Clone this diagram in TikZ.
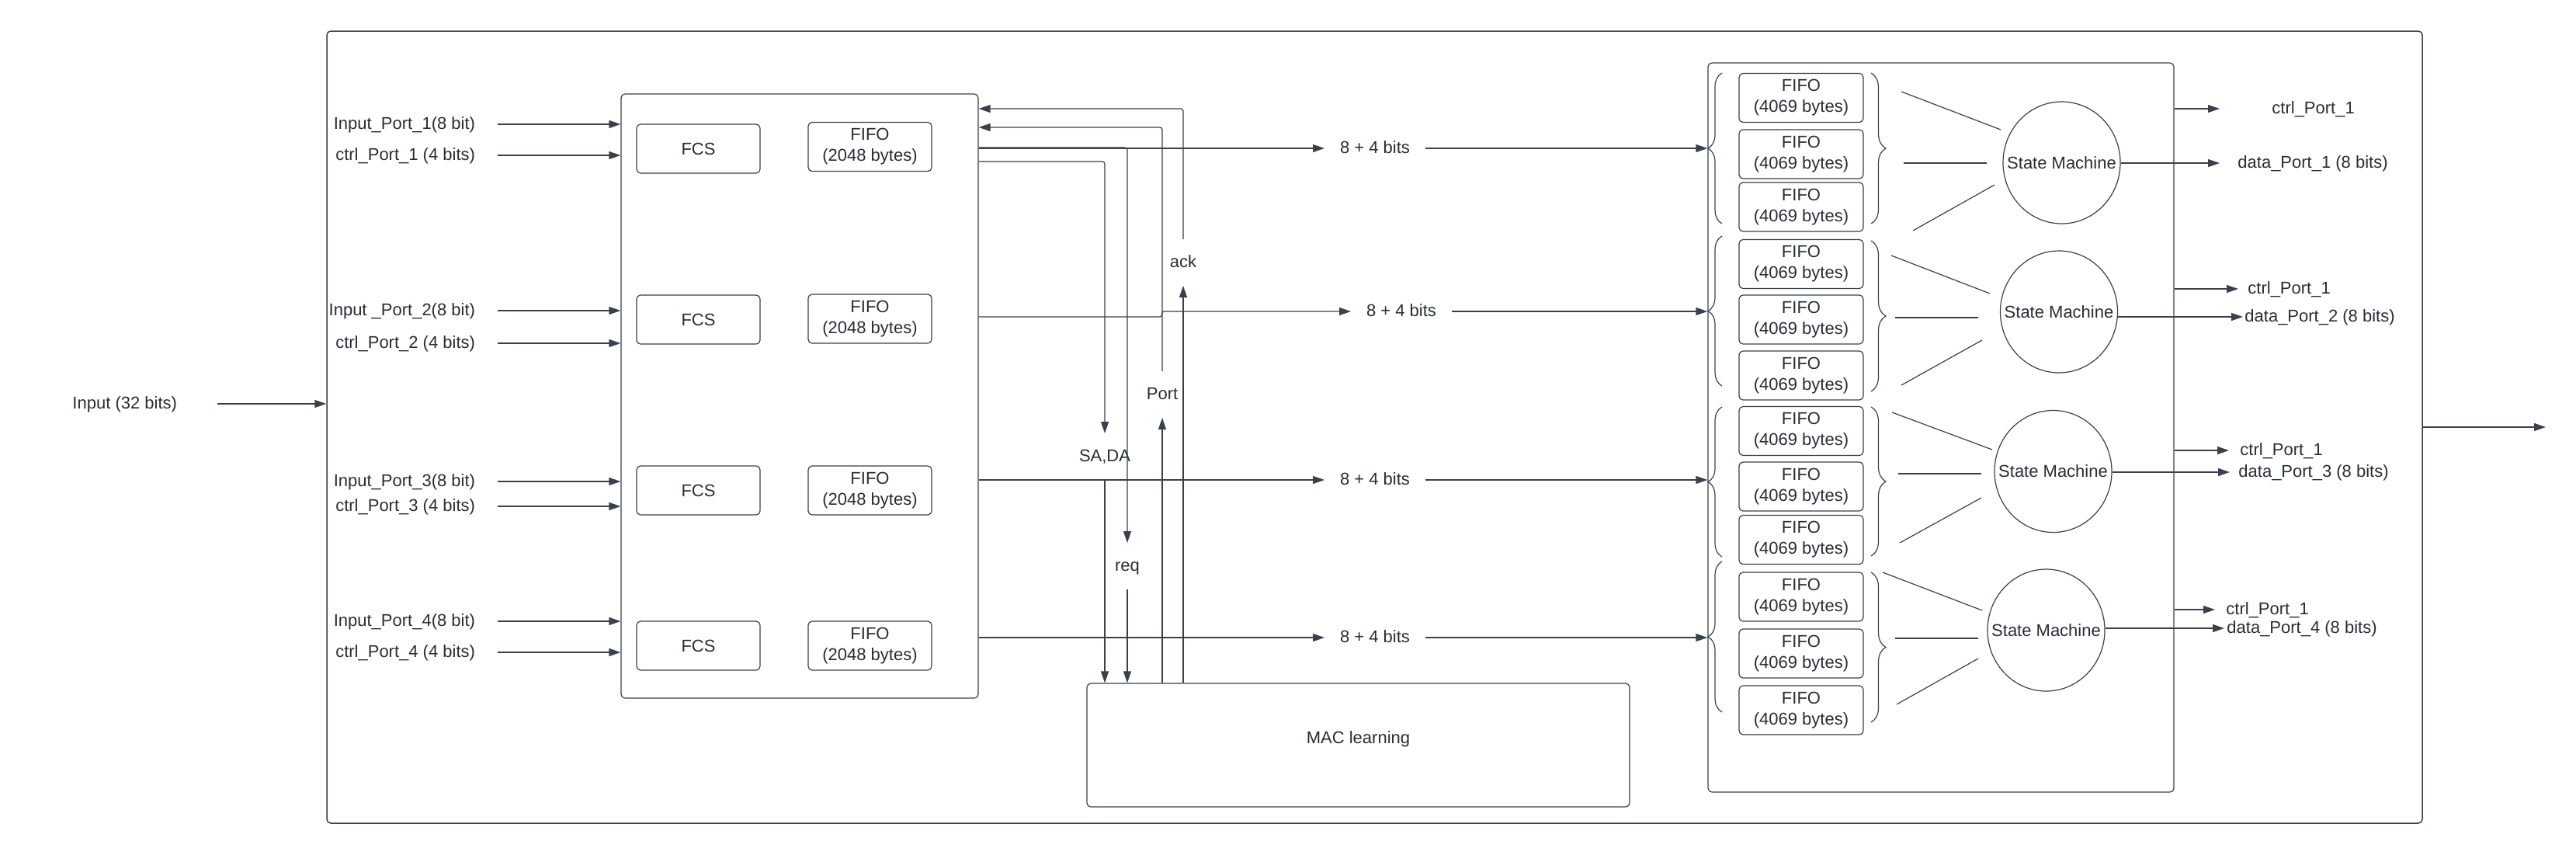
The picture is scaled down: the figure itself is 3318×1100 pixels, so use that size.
\documentclass[tikz,border=0pt]{standalone}
\usepackage{fontspec}
\setmainfont{Liberation Sans}
\usetikzlibrary{arrows.meta,shapes.geometric,fit,decorations.pathreplacing}

\definecolor{ink}{RGB}{58,65,74}
\definecolor{txt}{RGB}{40,45,52}

\tikzset{
  lbl/.style={inner sep=0pt, text height=8pt, text depth=2pt},
  midlbl/.style={lbl, outer sep=10pt},
  inlbl/.style={lbl, outer sep=14.5pt, anchor=east},
  outlbl/.style={lbl, anchor=west},
  blk/.style={draw=ink, line width=0.6pt, rounded corners=2.5pt, inner sep=0pt},
  smallblk/.style={blk, minimum width=79.5pt, minimum height=31.5pt, align=center},
  fsm/.style={draw=ink, line width=0.6pt, ellipse, inner sep=0pt, minimum width=75.5pt, minimum height=78.5pt,
    label={center:State Machine}},
  arr/.style={draw=ink, line width=0.6pt, rounded corners=1.5pt, -{Triangle[length=7.5pt,width=5pt]}},
  ln/.style={draw=ink, line width=0.6pt},
  lbrc/.style={ln, decorate, decoration={brace, amplitude=9pt}},
  rbrc/.style={ln, decorate, decoration={brace, amplitude=9.5pt}},
}

\begin{document}
\begin{tikzpicture}[x=0.5pt,y=0.5pt,yscale=-1,xscale=1,
  every node/.style={font=\fontsize{11pt}{13.5pt}\selectfont, text=txt}]
\useasboundingbox (0,0) rectangle (3318,1100);

%Shape: Rectangle (switch)
\node[blk, line width=0.75pt, fit={(421,40) (3120,1060)}] (sw) {};
%Shape: Rectangle (input side)
\node[blk, fit={(800,121) (1260,899)}] (ingress) {};
%Shape: Rectangle (output side)
\node[blk, fit={(2200,81) (2800,1020)}] (egress) {};
%Shape: Rectangle (MAC learning)
\node[blk, fit={(1400,880) (2099,1039)}] (mac) {MAC learning};

%Shape: FCS and FIFO blocks
\node[smallblk] (fcs1) at (899.5,191.5) {FCS};
\node[smallblk] (fcs2) at (899.5,411.5) {FCS};
\node[smallblk] (fcs3) at (899.5,631.5) {FCS};
\node[smallblk] (fcs4) at (899.5,831.5) {FCS};
\node[smallblk] (fifo1) at (1120.5,189) {FIFO\\(2048 bytes)};
\node[smallblk] (fifo2) at (1120.5,410.5) {FIFO\\(2048 bytes)};
\node[smallblk] (fifo3) at (1120.5,631.5) {FIFO\\(2048 bytes)};
\node[smallblk] (fifo4) at (1120.5,831.5) {FIFO\\(2048 bytes)};

% Text Node
\node[lbl, outer sep=26pt, anchor=east] (inp) at (280,520) {Input (32 bits)};
\node[inlbl] (ip1) at (641,160) {Input\_Port\_1(8 bit)};
\node[inlbl] (ic1) at (641,200) {ctrl\_Port\_1 (4 bits)};
\node[inlbl] (ip2) at (641,400) {Input \_Port\_2(8 bit)};
\node[inlbl] (ic2) at (641,442) {ctrl\_Port\_2 (4 bits)};
\node[inlbl] (ip3) at (641,620) {Input\_Port\_3(8 bit)};
\node[inlbl] (ic3) at (641,652) {ctrl\_Port\_3 (4 bits)};
\node[inlbl] (ip4) at (641,800) {Input\_Port\_4(8 bit)};
\node[inlbl] (ic4) at (641,840) {ctrl\_Port\_4 (4 bits)};

%Straight Lines (inputs)
\draw[arr] (inp.east) -- (inp.east -| sw.west);
\draw[arr] (ip1.east) -- (ip1.east -| ingress.west);
\draw[arr] (ic1.east) -- (ic1.east -| ingress.west);
\draw[arr] (ip2.east) -- (ip2.east -| ingress.west);
\draw[arr] (ic2.east) -- (ic2.east -| ingress.west);
\draw[arr] (ip3.east) -- (ip3.east -| ingress.west);
\draw[arr] (ic3.east) -- (ic3.east -| ingress.west);
\draw[arr] (ip4.east) -- (ip4.east -| ingress.west);
\draw[arr] (ic4.east) -- (ic4.east -| ingress.west);

% Text Node
\node[midlbl] (ack) at (1524,338) {ack};
\node[midlbl] (port) at (1497,508) {Port};
\node[midlbl] (sada) at (1423,588) {SA,DA};
\node[midlbl] (req) at (1452,729) {req};
\node[midlbl] (bits1) at (1771,191) {8 + 4 bits};
\node[midlbl] (bits2) at (1805,401) {8 + 4 bits};
\node[midlbl] (bits3) at (1771,618) {8 + 4 bits};
\node[midlbl] (bits4) at (1771,821) {8 + 4 bits};

%Straight Lines (to MAC learning and back)
\draw[arr] (ingress.east |- 0,190) -| (req.north);
\draw[arr] (req.south) -- (req.south |- mac.north);
\draw[arr] (ingress.east |- 0,208) -| (sada.north);
\draw[arr] (sada.south) -- (sada.south |- mac.north);
\draw[arr] (port.south |- mac.north) -- (port.south);
\draw[arr] (port.north) |- (ingress.east |- 0,164);
\draw[arr] (ack.south |- mac.north) -- (ack.south);
\draw[arr] (ack.north) |- (ingress.east |- 0,140);

%Straight Lines (8 + 4 bits)
\draw[arr] (ingress.east |- bits1) -- (bits1.west);
\draw[arr] (bits1.east) -- (bits1.east -| egress.west);
\draw[arr] (ingress.east |- 0,408) -- ++(236,0) |- (bits2.west);
\draw[arr] (bits2.east) -- (bits2.east -| egress.west);
\draw[arr] (ingress.east |- bits3) -- (bits3.west);
\draw[arr] (bits3.east) -- (bits3.east -| egress.west);
\draw[arr] (ingress.east |- bits4) -- (bits4.west);
\draw[arr] (bits4.east) -- (bits4.east -| egress.west);

%Shape: output FIFOs
\node[smallblk, minimum width=80pt] (q11) at (2320,126) {FIFO\\(4069 bytes)};
\node[smallblk, minimum width=80pt] (q12) at (2320,198.5) {FIFO\\(4069 bytes)};
\node[smallblk, minimum width=80pt] (q13) at (2320,266.5) {FIFO\\(4069 bytes)};
\node[smallblk, minimum width=80pt] (q21) at (2320,340) {FIFO\\(4069 bytes)};
\node[smallblk, minimum width=80pt] (q22) at (2320,411.5) {FIFO\\(4069 bytes)};
\node[smallblk, minimum width=80pt] (q23) at (2320,483.5) {FIFO\\(4069 bytes)};
\node[smallblk, minimum width=80pt] (q31) at (2320,555) {FIFO\\(4069 bytes)};
\node[smallblk, minimum width=80pt] (q32) at (2320,626.5) {FIFO\\(4069 bytes)};
\node[smallblk, minimum width=80pt] (q33) at (2320,695) {FIFO\\(4069 bytes)};
\node[smallblk, minimum width=80pt] (q41) at (2320,768.5) {FIFO\\(4069 bytes)};
\node[smallblk, minimum width=80pt] (q42) at (2320,841.5) {FIFO\\(4069 bytes)};
\node[smallblk, minimum width=80pt] (q43) at (2320,914.5) {FIFO\\(4069 bytes)};

%Shape: Braces
\draw[lbrc] (2218,288) -- (2218,94);
\draw[lbrc] (2218,497) -- (2218,304);
\draw[lbrc] (2218,717) -- (2218,524);
\draw[lbrc] (2218,917) -- (2218,723);
\draw[rbrc] (2410,94) -- (2410,288);
\draw[rbrc] (2410,310) -- (2410,504);
\draw[rbrc] (2410,524) -- (2410,716);
\draw[rbrc] (2410,737) -- (2410,930);

%Shape: State machines
\node[fsm] (sm1) at (2655.5,209.5) {};
\node[fsm] (sm2) at (2652,401.5) {};
\node[fsm] (sm3) at (2644.5,607) {};
\node[fsm] (sm4) at (2635.5,811.5) {};

%Straight Lines (fan in)
\draw[ln] (2449,118) -- (2577,167);
\draw[ln] (2452,210) -- (2559,210);
\draw[ln] (2464,297) -- (2569,238);
\draw[ln] (2436,329) -- (2563,378);
\draw[ln] (2441,409) -- (2548,409);
\draw[ln] (2449,496) -- (2553,438);
\draw[ln] (2437,531) -- (2566,579);
\draw[ln] (2445,610) -- (2552,610);
\draw[ln] (2447,699) -- (2552,641);
\draw[ln] (2425,737) -- (2553,786);
\draw[ln] (2441,822) -- (2548,822);
\draw[ln] (2443,907) -- (2548,848);

% Text Node
\node[outlbl] (oc1) at (2926,140) {ctrl\_Port\_1};
\node[outlbl] (od1) at (2882,210) {data\_Port\_1 (8 bits)};
\node[outlbl] (oc2) at (2895,372) {ctrl\_Port\_1};
\node[outlbl] (od2) at (2891,408) {data\_Port\_2 (8 bits)};
\node[outlbl] (oc3) at (2885,580) {ctrl\_Port\_1};
\node[outlbl] (od3) at (2883,608) {data\_Port\_3 (8 bits)};
\node[outlbl] (oc4) at (2867,785) {ctrl\_Port\_1};
\node[outlbl] (od4) at (2868,809) {data\_Port\_4 (8 bits)};

%Straight Lines (outputs)
\draw[arr, shorten >=33.5pt] (egress.east |- oc1.west) -- (oc1.west);
\draw[arr, shorten >=11.5pt] (sm1.east |- od1.west) -- (od1.west);
\draw[arr, shorten >=6pt] (egress.east |- oc2.west) -- (oc2.west);
\draw[arr, shorten >=1pt] (sm2.east |- od2.west) -- (od2.west);
\draw[arr, shorten >=7pt] (egress.east |- oc3.west) -- (oc3.west);
\draw[arr, shorten >=5.5pt] (sm3.east |- od3.west) -- (od3.west);
\draw[arr, shorten >=7pt] (egress.east |- oc4.west) -- (oc4.west);
\draw[arr, shorten >=1.5pt] (sm4.east |- od4.west) -- (od4.west);

\coordinate (swout) at (3279,550);
\draw[arr] (sw.east |- swout) -- (swout);

\end{tikzpicture}
\end{document}
